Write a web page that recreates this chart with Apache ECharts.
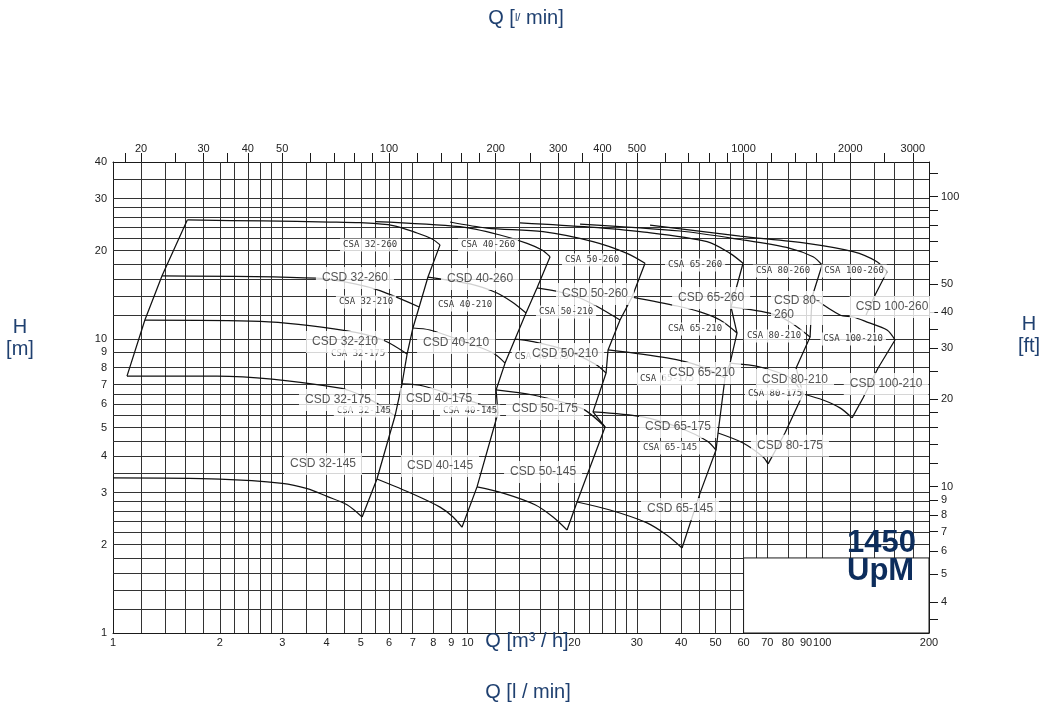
<!DOCTYPE html>
<html><head><meta charset="utf-8">
<script src="https://cdn.jsdelivr.net/npm/echarts@6/dist/echarts.min.js"></script>
<style>html,body{margin:0;padding:0;background:#fff}#c{width:1044px;height:706px}</style>
</head><body><div id="c"></div>
<script>
// ---- axis ticks / labels ----
const Q_LABELS_M3H = [1,2,3,4,5,6,7,8,9,10,20,30,40,50,60,70,80,90,100,200];
const Q_TICKS_LMIN = [18,20,25,30,35,40,50,60,70,80,90,100,120,140,160,180,200,250,300,350,400,500,600,700,800,900,1000,1200,1400,1600,1800,2000,2500,3000];
const Q_LABELS_LMIN = [20,30,40,50,100,200,300,400,500,1000,2000,3000];
const H_LABELS_M = [1,2,3,4,5,6,7,8,9,10,20,30,40];
const H_TICKS_FT = [3.5,4,5,6,7,8,9,10,12,14,16,18,20,25,30,35,40,50,60,70,80,90,100,120];
const H_LABELS_FT = [4,5,6,7,8,9,10,20,30,40,50,100];
const GRID_Q = [1.2,1.4,1.6,1.8,2,2.2,2.4,2.6,2.8,3,3.5,4,4.5,5,5.5,6,6.5,7,8,9,10,12,14,16,18,20,22,24,26,28,30,35,40,45,50,55,60,65,70,80,90,100,120,140,160,180];
const GRID_H = [1.2,1.4,1.6,1.8,2,2.2,2.4,2.6,2.8,3,3.5,4,4.5,5,5.5,6,6.5,7,8,9,10,12,14,16,18,20,22,24,26,28,30,35];
const BLANK_Q = [60,200];
const BLANK_H = [1,1.8];
const Q_RANGE = [1,200];
const H_RANGE = [1,40];
const LMIN_PER_M3H = 1000/60;
const FT_AXIS_RANGE = [3.13,131.7];   // ft scale as printed on the sheet

// ---- pump curves (Q m3/h, H m) ----
const c32a = [[1.62,25.4],[2.65,25.2],[4.09,25.0],[4.97,24.86],[6.16,24.32],[7.2,22.94],[7.94,21.89],[8.36,20.9]];
const c32b = [[1.375,16.4],[3.76,16.1],[4.81,15.4],[5.66,14.6],[7.3,12.85]];
const c32c = [[1.23,11.6],[2.6,11.47],[4.57,10.65],[5.77,9.92],[6.75,8.89]];
const c32d = [[1.095,7.48],[1.965,7.48],[4.37,6.81],[5.41,6.15],[6.24,5.47]];
const c32e = [[1,3.37],[2.0,3.34],[3.0,3.23],[3.53,3.1],[4.0,2.92],[4.57,2.73],[5.04,2.48]];
const left32 = [[1.62,25.4],[1.375,16.4],[1.23,11.6],[1.095,7.48]];
const edge32_40 = [[8.36,20.9],[7.73,16.25],[7.3,12.85],[7.01,10.9],[6.75,8.89],[6.53,7.03],[6.24,5.47],[5.55,3.34],[5.04,2.48]];

const c40a = [[5.48,25.1],[9.52,24.1],[12.34,22.58],[14.71,21.16],[16.21,20.07],[17.08,19.05]];
const c40b = [[7.73,16.25],[10.16,15.39],[12.1,14.34],[13.35,13.36],[14.61,12.26]];
const c40c = [[7.01,10.9],[7.83,10.73],[9.83,9.77],[11.8,8.96],[12.75,8.28]];
const c40d = [[6.53,7.03],[7.49,6.92],[10.36,6.11],[11.57,5.83],[12.18,5.6]];
const c40e = [[5.55,3.34],[7.01,2.97],[8.36,2.68],[9.1,2.48],[9.64,2.29]];
const edge40_50 = [[17.08,19.05],[15.69,14.92],[14.61,12.26],[13.61,10.0],[12.75,8.28],[12.03,6.71],[12.18,5.6],[10.63,3.14],[9.64,2.29]];

const c50a = [[8.92,25.0],[11.34,23.85],[16.32,23.17],[22.57,21.43],[28.15,19.56],[31.64,18.1]];
const c50b = [[15.69,14.92],[18.22,14.45],[20.75,13.79],[23.32,12.85],[26.9,11.6]];
const c50c = [[13.61,10.0],[15.0,9.84],[18.83,9.18],[22.87,8.22],[24.57,7.66]];
const c50d = [[12.03,6.71],[15.29,6.45],[18.83,6.06],[21.43,5.73],[24.41,5.02]];
const c50e = [[10.63,3.14],[12.59,2.99],[15.49,2.73],[17.41,2.48],[19.07,2.24]];
const edge50_65 = [[31.64,18.1],[29.09,13.89],[26.9,11.6],[24.89,9.18],[24.57,7.66],[22.57,5.65],[24.41,5.02],[20.35,2.79],[19.07,2.24]];

const c65a = [[14.05,24.81],[22.14,24.0],[30.63,23.17],[47.33,21.43],[54.95,19.56],[59.8,18.1]];
const c65b = [[29.09,13.89],[38.96,12.95],[45.23,12.36],[51.5,11.6],[57.5,10.48]];
const c65c = [[24.89,9.18],[36.5,8.62],[45.23,8.09],[53.18,7.37]];
const c65d = [[22.57,5.65],[31.23,5.43],[39.7,4.98],[47.33,4.5],[50.17,4.19]];
const c65e = [[20.35,2.79],[25.21,2.62],[32.06,2.37],[36.5,2.15],[40.24,1.946]];
const edge65_80 = [[59.8,18.1],[55.3,12.85],[57.5,10.48],[54.95,8.28],[53.18,7.37],[50.83,4.79],[50.17,4.19],[45.23,2.99],[40.24,1.946]];

const c80a = [[20.75,24.61],[39.72,23.3],[58.64,21.8],[81.1,20.35],[94.2,19.05],[99.9,17.85]];
const c80b = [[55.3,12.85],[72.65,12.16],[81.1,11.42],[92.4,10.16]];
const c80c = [[54.95,8.28],[66.8,8.03],[81.1,7.37],[88.3,6.5]];
const c80d = [[50.83,4.79],[59.8,4.43],[68.1,3.97],[70.35,3.76]];
const edge80_100 = [[99.9,17.85],[93.6,13.89],[92.4,10.16],[84.4,7.97],[88.3,6.5],[78.5,4.79],[70.35,3.76]];

const c100a = [[32.69,24.42],[58.64,22.4],[90.6,21.16],[122.2,19.82],[142.7,18.32],[152.3,16.94]];
const c100b = [[93.6,13.89],[112.2,12.07],[122.2,11.88],[133.8,11.42],[152.3,10.73],[160.4,9.92]];
const c100c = [[88.3,6.5],[100.5,6.2],[112.2,5.83],[121.4,5.39]];
const edge100top = [[152.3,16.94],[140.9,14.11],[132.9,12.07]];
const edge100low = [[160.4,9.92],[143.7,7.97],[130.3,6.3],[121.4,5.39]];

const HQ_CURVES = [c32a,c32b,c32c,c32d,c32e,c40a,c40b,c40c,c40d,c40e,c50a,c50b,c50c,c50d,c50e,
  c65a,c65b,c65c,c65d,c65e,c80a,c80b,c80c,c80d,c100a,c100b,c100c];
const EDGES = [left32,edge32_40,edge40_50,edge50_65,edge65_80,edge80_100,edge100top,edge100low];

// ---- labels: [text, Q, H] ----
const CSD_LABELS = [
  ['CSD 32-260',4.81,16.13],['CSD 40-260',10.84,16.0],['CSD 50-260',22.87,14.23],['CSD 65-260',48.6,13.79],
  ['CSD 100-260',157.3,12.85],
  ['CSD 32-210',4.51,9.77],['CSD 40-210',9.28,9.69],['CSD 50-210',18.83,8.89],['CSD 65-210',45.8,7.66],
  ['CSD 80-210',83.8,7.25],['CSD 100-210',151.4,7.03],
  ['CSD 32-175',4.31,6.2],['CSD 40-175',8.31,6.25],['CSD 50-175',16.53,5.78],['CSD 65-175',39.2,5.02],['CSD 80-175',81.1,4.33],
  ['CSD 32-145',3.91,3.76],['CSD 40-145',8.36,3.7],['CSD 50-145',16.32,3.53],['CSD 65-145',39.72,2.64]
];
const CSD_LABELS_LEFT = [['CSD 80-\n260',71.7,12.75]];
const CSA_LABELS = [
  ['CSA 32-260',5.31,20.9],['CSA 40-260',11.42,20.9],['CSA 50-260',22.43,18.56],['CSA 65-260',43.8,17.85],
  ['CSA 80-260',77.5,17.03],['CSA 100-260',122.9,17.03],
  ['CSA 32-210',5.17,13.36],['CSA 40-210',9.83,13.05],['CSA 50-210',18.95,12.36],['CSA 65-210',43.8,10.81],
  ['CSA 80-210',73.1,10.24],['CSA 100-210',122.2,10.0],
  ['CSA 32-175',4.91,8.89],['CSA 40-175',16.2,8.69],['CSA 65-175',36.5,7.31],['CSA 80-175',73.6,6.5],
  ['CSA 32-145',5.1,5.69],['CSA 40-145',10.16,5.69],['CSA 65-145',37.23,4.26]
];

const chart = echarts.init(document.getElementById('c'), null, {renderer:'canvas'});
const FONT = 'Liberation Sans';
const AX = '#1a1a1a';
const plain = v => String(Math.round(v*100)/100);
const lineSeries = [];
HQ_CURVES.forEach(d => lineSeries.push({type:'line', data:d, smooth:0.3, showSymbol:false, silent:true, z:3,
  lineStyle:{color:'#111', width:1.25}}));
EDGES.forEach(d => lineSeries.push({type:'line', data:d, smooth:false, showSymbol:false, silent:true, z:3,
  lineStyle:{color:'#111', width:1.25}}));

const labelSeries = (arr, z, lab, extra) => ({
  type:'scatter', z:z, silent:true, symbolSize:1, itemStyle:{color:'rgba(0,0,0,0)'},
  data: arr.map(a => ({value:[a[1],a[2],a[0]], label: extra || {}})),
  label: Object.assign({show:true, position:'inside', formatter:p=>p.value[2]}, lab)
});

const option = {
  animation:false,
  backgroundColor:'#fff',
  textStyle:{fontFamily:FONT},
  grid:{left:113, right:115, top:162, bottom:73, show:false},
  xAxis:[
    {type:'log', logBase:10, min:Q_RANGE[0], max:Q_RANGE[1], position:'bottom',
     axisLine:{show:true, lineStyle:{color:AX, width:1}}, axisTick:{show:false}, splitLine:{show:false},
     axisLabel:{customValues:Q_LABELS_M3H, formatter:plain, fontSize:11, color:'#222', margin:4, fontFamily:FONT}},
    {type:'log', logBase:10, min:Q_RANGE[0]*LMIN_PER_M3H, max:Q_RANGE[1]*LMIN_PER_M3H, position:'top',
     axisLine:{show:true, lineStyle:{color:AX, width:1}},
     axisTick:{show:true, inside:false, length:9, customValues:Q_TICKS_LMIN, lineStyle:{color:AX}}, splitLine:{show:false},
     axisLabel:{customValues:Q_LABELS_LMIN, formatter:plain, fontSize:11, color:'#222', margin:8, fontFamily:FONT}}
  ],
  yAxis:[
    {type:'log', logBase:10, min:H_RANGE[0], max:H_RANGE[1], position:'left',
     axisLine:{show:true, lineStyle:{color:AX, width:1}}, axisTick:{show:false}, splitLine:{show:false},
     axisLabel:{customValues:H_LABELS_M, formatter:plain, fontSize:11, color:'#222', margin:6, fontFamily:FONT}},
    {type:'log', logBase:10, min:FT_AXIS_RANGE[0], max:FT_AXIS_RANGE[1], position:'right',
     axisLine:{show:true, lineStyle:{color:AX, width:1}},
     axisTick:{show:true, inside:false, length:9, customValues:H_TICKS_FT, lineStyle:{color:AX}}, splitLine:{show:false},
     axisLabel:{customValues:H_LABELS_FT, formatter:plain, fontSize:11, color:'#222', margin:12, fontFamily:FONT}}
  ],
  series:[
    {type:'line', data:[[Q_RANGE[0],H_RANGE[0]]], showSymbol:false, silent:true, z:1, lineStyle:{opacity:0},
     markLine:{z:1, silent:true, symbol:['none','none'], animation:false, label:{show:false},
       lineStyle:{color:'#333', width:1, type:'solid'},
       emphasis:{disabled:true},
       data: GRID_Q.map(q=>({xAxis:q})).concat(GRID_H.map(h=>({yAxis:h})))}},
    {type:'line', data:[[Q_RANGE[0],H_RANGE[0]]], showSymbol:false, silent:true, z:2, lineStyle:{opacity:0},
     markArea:{z:2, silent:true, itemStyle:{color:'#fff', borderColor:AX, borderWidth:1},
       emphasis:{disabled:true},
       data:[[{coord:[BLANK_Q[0],BLANK_H[0]]},{coord:[BLANK_Q[1],BLANK_H[1]]}]]}},
    ...lineSeries,
    labelSeries(CSA_LABELS, 5, {fontSize:9, fontFamily:'DejaVu Sans Mono', color:'#000', backgroundColor:'#fff', padding:[2,3]}),
    labelSeries(CSD_LABELS, 6, {fontSize:12, fontFamily:FONT, color:'#2a2a2a', backgroundColor:'#fff', padding:[5,6]}),
    labelSeries(CSD_LABELS_LEFT, 6, {fontSize:12, fontFamily:FONT, color:'#2a2a2a', backgroundColor:'#fff', padding:[3,3], lineHeight:14}, {align:'left'})
  ],
  graphic:[
    {type:'text', x:526, y:18, z:20, style:{text:'{a|Q [}{b|l/}{a| min]}', align:'center', verticalAlign:'middle',
      rich:{a:{fontSize:20, fontFamily:FONT, fill:'#1f4070'}, b:{fontSize:11, fontFamily:FONT, fill:'#1f4070'}}}},
    {type:'text', x:527, y:641, z:20, style:{text:'Q [m³ / h]', align:'center', verticalAlign:'middle', font:'20px "Liberation Sans"', fill:'#1f4070'}},
    {type:'text', x:528, y:692, z:20, style:{text:'Q [l / min]', align:'center', verticalAlign:'middle', font:'20px "Liberation Sans"', fill:'#1f4070'}},
    {type:'text', x:20, y:338, z:20, style:{text:'H\n[m]', align:'center', verticalAlign:'middle', font:'20px "Liberation Sans"', lineHeight:22, fill:'#1f4070'}},
    {type:'text', x:1029, y:335, z:20, style:{text:'H\n[ft]', align:'center', verticalAlign:'middle', font:'20px "Liberation Sans"', lineHeight:22, fill:'#1f4070'}},
    {type:'text', x:847, y:529, z:20, style:{text:'1450\nUpM', align:'left', verticalAlign:'top', font:'bold 31px "Liberation Sans"', lineHeight:28, fill:'#0d2d5c'}}
  ]
};
chart.setOption(option);
</script></body></html>
